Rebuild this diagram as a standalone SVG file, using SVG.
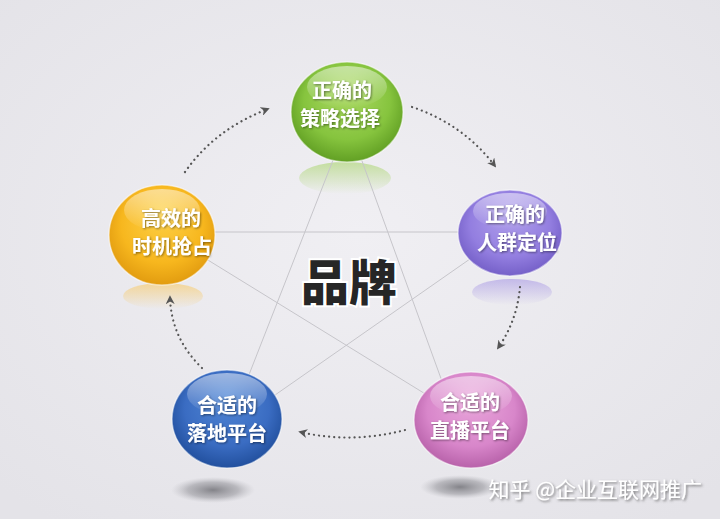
<svg xmlns="http://www.w3.org/2000/svg" width="720" height="519" viewBox="0 0 720 519">
<defs>
<radialGradient id="bg" cx="50%" cy="45%" r="70%">
<stop offset="0" stop-color="#f0eff3"/>
<stop offset="1" stop-color="#e4e3e8"/>
</radialGradient>
<radialGradient id="gGreen" cx="50%" cy="45%" r="55%" fx="50%" fy="25%">
<stop offset="0" stop-color="#aedb66"/>
<stop offset="0.7" stop-color="#86c43e"/>
<stop offset="1" stop-color="#62a024"/>
</radialGradient>
<radialGradient id="gPurple" cx="50%" cy="45%" r="55%" fx="50%" fy="25%">
<stop offset="0" stop-color="#b2a2ec"/>
<stop offset="0.7" stop-color="#937ee0"/>
<stop offset="1" stop-color="#7560c8"/>
</radialGradient>
<radialGradient id="gPink" cx="50%" cy="45%" r="55%" fx="50%" fy="25%">
<stop offset="0" stop-color="#eaa8dc"/>
<stop offset="0.7" stop-color="#d886ca"/>
<stop offset="1" stop-color="#b862aa"/>
</radialGradient>
<radialGradient id="gBlue" cx="50%" cy="45%" r="55%" fx="50%" fy="25%">
<stop offset="0" stop-color="#5288d6"/>
<stop offset="0.7" stop-color="#3a6cc2"/>
<stop offset="1" stop-color="#22509e"/>
</radialGradient>
<radialGradient id="gYellow" cx="50%" cy="45%" r="55%" fx="50%" fy="25%">
<stop offset="0" stop-color="#fdd24a"/>
<stop offset="0.7" stop-color="#f7b71e"/>
<stop offset="1" stop-color="#e29c10"/>
</radialGradient>
<linearGradient id="hl" x1="0" y1="0" x2="0" y2="1">
<stop offset="0" stop-color="#ffffff" stop-opacity="0.5"/>
<stop offset="1" stop-color="#ffffff" stop-opacity="0"/>
</linearGradient>
<linearGradient id="rGreen" x1="0" y1="0" x2="0" y2="1">
<stop offset="0" stop-color="#a8d46a" stop-opacity="0.6"/>
<stop offset="1" stop-color="#a8d46a" stop-opacity="0"/>
</linearGradient>
<linearGradient id="rPurple" x1="0" y1="0" x2="0" y2="1">
<stop offset="0" stop-color="#a898e4" stop-opacity="0.6"/>
<stop offset="1" stop-color="#a898e4" stop-opacity="0"/>
</linearGradient>
<linearGradient id="rYellow" x1="0" y1="0" x2="0" y2="1">
<stop offset="0" stop-color="#f8c860" stop-opacity="0.6"/>
<stop offset="1" stop-color="#f8c860" stop-opacity="0"/>
</linearGradient>
<radialGradient id="shadow" cx="50%" cy="50%" r="50%">
<stop offset="0" stop-color="#6a6a70" stop-opacity="0.8"/>
<stop offset="0.6" stop-color="#8a8a90" stop-opacity="0.5"/>
<stop offset="1" stop-color="#b0b0b6" stop-opacity="0"/>
</radialGradient>
<filter id="ts" x="-20%" y="-30%" width="140%" height="160%">
<feDropShadow dx="1" dy="1" stdDeviation="0.8" flood-color="#000" flood-opacity="0.45"/>
</filter>
<filter id="wm" x="-10%" y="-30%" width="120%" height="160%">
<feDropShadow dx="1.5" dy="1.5" stdDeviation="1" flood-color="#555" flood-opacity="0.7"/>
</filter>
<marker id="arr" viewBox="0 0 10 10" refX="8" refY="5" markerWidth="9" markerHeight="9" markerUnits="userSpaceOnUse" orient="auto">
<path d="M0,0 L10,5 L0,10 L3,5 Z" fill="#555"/>
</marker>
</defs>
<style>
.star{stroke:#c6c5ca;stroke-width:1;fill:none}
.dot{stroke:#555;stroke-width:2.2;fill:none;stroke-dasharray:0.1 5;stroke-linecap:round}
.lbl{font-family:"Noto Sans CJK SC","Noto Sans",sans-serif;font-weight:bold;font-size:20px;fill:#ffffff;text-anchor:middle}
.rim{fill:none;stroke:#ffffff;stroke-opacity:0.5;stroke-width:1.5}
</style>
<rect width="720" height="519" fill="url(#bg)"/>

<g id="reflections">
<ellipse cx="345" cy="178" rx="46" ry="16" fill="url(#rGreen)"/>
<ellipse cx="512" cy="292" rx="40" ry="13" fill="url(#rPurple)"/>
<ellipse cx="163" cy="296" rx="40" ry="13" fill="url(#rYellow)"/>
<ellipse cx="213" cy="490" rx="42" ry="13" fill="url(#shadow)"/>
<ellipse cx="460" cy="487" rx="40" ry="12" fill="url(#shadow)"/>
</g>

<g id="connectors">
<line class="star" x1="162" y1="232" x2="510" y2="232"/>
<line class="star" x1="190" y1="249" x2="440" y2="403"/>
<line class="star" x1="490" y1="245" x2="255" y2="409"/>
<line class="star" x1="337" y1="150" x2="243" y2="390"/>
<line class="star" x1="358" y1="150" x2="447" y2="395"/>
<path class="dot" d="M185,172 Q215,129 268,109" marker-end="url(#arr)"/>
<path class="dot" d="M412,107 Q463,124 495,166" marker-end="url(#arr)"/>
<path class="dot" d="M520,287 Q517,321 498,348" marker-end="url(#arr)"/>
<path class="dot" d="M405,430 Q352,444 300,432" marker-end="url(#arr)"/>
<path class="dot" d="M202,368 Q171,338 170,297" marker-end="url(#arr)"/>
</g>

<g id="node-green">
<ellipse cx="347" cy="112" rx="56" ry="50" fill="url(#gGreen)"/>
<ellipse class="rim" cx="347" cy="112" rx="56" ry="50"/>
<ellipse cx="347" cy="87" rx="40" ry="21" fill="url(#hl)"/>
<text class="lbl" x="342" y="98" filter="url(#ts)">正确的</text>
<text class="lbl" x="340" y="126" filter="url(#ts)">策略选择</text>
</g>

<g id="node-purple">
<ellipse cx="510" cy="233" rx="52" ry="43" fill="url(#gPurple)"/>
<ellipse class="rim" cx="510" cy="233" rx="52" ry="43"/>
<ellipse cx="510" cy="211" rx="37" ry="18" fill="url(#hl)"/>
<text class="lbl" x="515" y="222" filter="url(#ts)">正确的</text>
<text class="lbl" x="517" y="250" filter="url(#ts)">人群定位</text>
</g>

<g id="node-pink">
<ellipse cx="471" cy="420" rx="57" ry="48" fill="url(#gPink)"/>
<ellipse class="rim" cx="471" cy="420" rx="57" ry="48"/>
<ellipse cx="471" cy="396" rx="41" ry="20" fill="url(#hl)"/>
<text class="lbl" x="470" y="410" filter="url(#ts)">合适的</text>
<text class="lbl" x="470" y="438" filter="url(#ts)">直播平台</text>
</g>

<g id="node-blue">
<ellipse cx="227" cy="419" rx="55" ry="49" fill="url(#gBlue)"/>
<ellipse class="rim" cx="227" cy="419" rx="55" ry="49"/>
<ellipse cx="227" cy="394" rx="40" ry="21" fill="url(#hl)"/>
<text class="lbl" x="227" y="413" filter="url(#ts)">合适的</text>
<text class="lbl" x="227" y="441" filter="url(#ts)">落地平台</text>
</g>

<g id="node-yellow">
<ellipse cx="162" cy="235" rx="53" ry="50" fill="url(#gYellow)"/>
<ellipse class="rim" cx="162" cy="235" rx="53" ry="50"/>
<ellipse cx="162" cy="210" rx="38" ry="21" fill="url(#hl)"/>
<text class="lbl" x="171" y="226" filter="url(#ts)">高效的</text>
<text class="lbl" x="172" y="254" filter="url(#ts)">时机抢占</text>
</g>

<g id="center">
<text x="349" y="300" font-family="Noto Sans CJK SC, sans-serif" font-weight="900" font-size="48" fill="#262626" stroke="#ffffff" stroke-width="4" paint-order="stroke" text-anchor="middle">品牌</text>
</g>

<g id="watermark">
<text x="702" y="497" font-family="Noto Sans CJK SC, sans-serif" font-size="21" fill="#ffffff" text-anchor="end" filter="url(#wm)">知乎 @企业互联网推广</text>
</g>
</svg>
